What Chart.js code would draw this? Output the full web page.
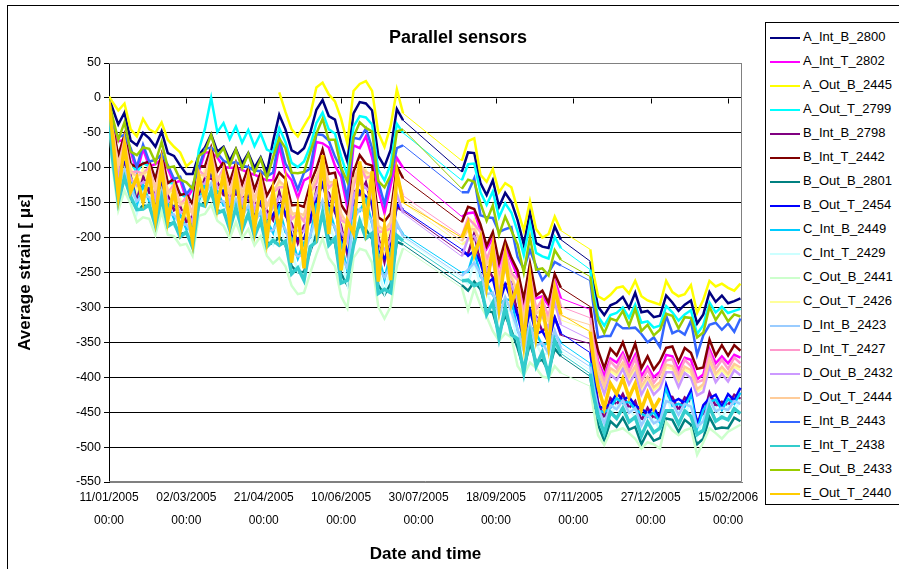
<!DOCTYPE html>
<html>
<head>
<meta charset="utf-8">
<title>Parallel sensors</title>
<script src="https://cdn.jsdelivr.net/npm/chart.js@4.4.1/dist/chart.umd.min.js"></script>
<style>
  html, body { margin: 0; padding: 0; background: #fff; overflow: hidden; }
  #wrap { position: relative; width: 899px; height: 569px; font-family: "Liberation Sans", Arial, sans-serif; color: #000; }
  #frame { position: absolute; left: 7px; top: 5px; width: 1000px; height: 1000px; border: 1px solid #000; box-sizing: border-box; }
  #chartBox { position: absolute; left: 0; top: 0; width: 899px; height: 569px; }
  #title { position: absolute; left: 308px; width: 300px; top: 26px; text-align: center; font-weight: bold; font-size: 18px; line-height: 22px; }
  #legend { position: absolute; left: 765px; top: 22px; width: 150px; height: 483px; border: 1px solid #000; box-sizing: border-box; background: #fff; }
  .item { position: absolute; left: 4px; height: 16px; font-size: 13px; line-height: 16px; white-space: nowrap; }
  .swatch { display: inline-block; width: 30px; height: 2px; vertical-align: middle; margin-right: 3px; }
</style>
</head>
<body>
<div id="wrap">
  <div id="frame"></div>
  <div id="chartBox"><canvas id="myChart"></canvas></div>
  <div id="title">Parallel sensors</div>
  <div id="legend"></div>
</div>
<script>
// days since 11/01/2005 00:00 (three recording periods)
const days = [0, 2, 6, 10, 14, 18, 22, 26, 30, 34, 38, 42, 46, 50, 54, 58, 62, 66, 70, 74, 78, 82, 86, 90, 94, 98,
  102, 106, 110, 114, 118, 122, 126, 130, 134, 138, 142, 146, 150, 154, 158, 162, 166, 170, 174, 178, 182, 186, 190,
  228, 232, 236, 240, 244, 248, 252, 256, 260, 264, 268, 272, 276, 280, 284, 288, 292,
  311, 313, 316, 320, 324, 328, 332, 336, 340, 344, 348, 352, 356, 360, 364, 368, 372, 376, 380, 384, 388, 392, 396, 400, 404, 408];

const aIntB2800 = [0, -13, -38, -21, -61, -68, -50, -58, -70, -48, -79, -83, -97, -109, -109, -82, -71, -52, -77, -70, -90, -73, -94, -79, -100, -85, -107, -62, -24, -45, -75, -80, -72, -50, -17, -3, -26, -31, -64, -91, -22, -6, -8, -18, -83, -98, -74, -16, -32,
  -106, -78, -79, -122, -139, -118, -156, -136, -149, -175, -210, -164, -208, -213, -215, -184, -203,
  -234, -265, -299, -311, -297, -293, -285, -301, -279, -307, -305, -314, -312, -283, -293, -305, -296, -290, -323, -310, -278, -292, -283, -294, -291, -287];
const aIntT2802 = [-8, -44, -62, -60, -76, -107, -73, -98, -95, -88, -101, -123, -118, -145, -131, -106, -78, -78, -85, -99, -100, -100, -103, -107, -110, -114, -118, -118, -69, -107, -118, -143, -118, -113, -63, -65, -71, -97, -113, -157, -68, -72, -55, -85, -132, -165, -125, -86, -100,
  -170, -165, -164, -189, -216, -201, -240, -213, -234, -255, -292, -246, -287, -284, -297, -261, -287,
  -303, -339, -377, -398, -373, -379, -365, -385, -368, -398, -385, -400, -392, -368, -370, -389, -372, -375, -403, -396, -360, -380, -370, -380, -368, -372];
const aOutB2445 = [2, -5, -18, -8, -45, -55, -30, -45, -50, -35, -60, -70, -78, -98, -90, null, null, null, null, null, null, null, null, null, null, null, null, null, 8, -20, -45, -55, -40, -25, 15, 22, 5, -5, -30, -65, 10, 20, 24, 10, -50, -70, -40, 12, -22,
  -90, -62, -58, -110, -120, -102, -135, -122, -128, -160, -190, -148, -188, -200, -195, -170, -190,
  -217, -251, -284, -289, -282, -272, -270, -280, -262, -284, -290, -293, -296, -262, -278, -284, -281, -268, -308, -289, -262, -270, -266, -272, -276, -266];
const aOutT2799 = [-5, -42, -82, -59, -93, -106, -93, -98, -115, -88, -121, -123, -137, -143, -150, -75, -44, 0, -49, -36, -59, -41, -64, -46, -69, -51, -74, -78, -43, -63, -93, -99, -91, -69, -36, -21, -45, -51, -84, -111, -41, -26, -28, -38, -103, -118, -95, -37, -50,
  -118, -95, -94, -135, -153, -134, -171, -151, -164, -191, -225, -180, -222, -227, -230, -199, -215,
  -246, -278, -313, -326, -311, -308, -300, -315, -296, -322, -320, -329, -326, -298, -307, -319, -310, -304, -338, -325, -293, -307, -299, -308, -305, -302];
const bIntB2798 = [-9, -72, -100, -96, -106, -142, -111, -136, -135, -126, -139, -161, -154, -178, -169, -139, -113, -116, -120, -139, -140, -138, -141, -147, -150, -154, -161, -175, -134, -169, -180, -208, -183, -178, -128, -128, -136, -164, -183, -224, -133, -139, -121, -155, -199, -235, -195, -156, -162,
  -222, -223, -194, -236, -242, -257, -270, -267, -264, -310, -322, -303, -313, -334, -326, -314, -340,
  -352, -392, -435, -459, -430, -439, -424, -444, -434, -462, -444, -459, -452, -427, -428, -447, -429, -436, -462, -456, -422, -441, -435, -440, -425, -431];
const bIntT2442 = [-6, -35, -83, -53, -95, -99, -94, -91, -116, -81, -122, -116, -139, -137, -152, -98, -98, -71, -105, -92, -121, -93, -124, -100, -131, -107, -140, -124, -107, -116, -154, -153, -156, -123, -101, -74, -109, -107, -153, -167, -106, -82, -94, -97, -171, -177, -165, -98, -115,
  -178, -156, -159, -181, -212, -192, -235, -205, -229, -247, -288, -237, -283, -276, -293, -252, -272,
  -299, -332, -362, -387, -359, -369, -350, -375, -352, -387, -370, -389, -377, -358, -356, -378, -358, -365, -388, -386, -346, -369, -354, -369, -354, -362];
const bOutB2801 = [-15, -81, -144, -115, -139, -161, -154, -155, -178, -145, -180, -180, -195, -193, -210, -153, -151, -135, -161, -163, -183, -159, -184, -168, -193, -178, -207, -209, -199, -211, -241, -250, -249, -220, -194, -170, -200, -208, -252, -268, -199, -183, -188, -202, -268, -282, -266, -206, -210,
  -268, -276, -263, -274, -305, -307, -338, -311, -333, -358, -388, -352, -378, -375, -392, -359, -370,
  -399, -432, -468, -491, -463, -471, -458, -475, -471, -496, -478, -491, -487, -459, -461, -478, -461, -468, -496, -488, -457, -474, -472, -473, -458, -463];
const bOutT2454 = [-12, -61, -116, -88, -119, -134, -127, -127, -150, -117, -154, -152, -170, -168, -184, -129, -127, -107, -136, -132, -155, -130, -157, -138, -165, -147, -177, -167, -153, -164, -197, -202, -202, -172, -147, -123, -154, -158, -202, -218, -152, -133, -141, -150, -219, -230, -215, -152, -160,
  -217, -226, -219, -236, -266, -259, -295, -267, -289, -312, -346, -304, -338, -334, -350, -315, -337,
  -365, -397, -443, -443, -439, -423, -432, -428, -441, -445, -452, -443, -460, -411, -436, -431, -437, -419, -470, -440, -430, -425, -442, -424, -433, -415];
const cIntB2449 = [-10, -80, -114, -109, -114, -155, -125, -148, -148, -138, -151, -173, -167, -188, -181, -149, -124, -128, -133, -154, -153, -152, -155, -160, -163, -169, -176, -193, -158, -192, -201, -230, -207, -200, -152, -151, -158, -187, -208, -247, -157, -162, -146, -180, -224, -260, -221, -182, -195,
  -250, -249, -219, -256, -265, -282, -295, -289, -289, -334, -346, -327, -337, -355, -350, -337, -351,
  -380, -408, -448, -450, -444, -430, -437, -435, -446, -452, -457, -450, -465, -418, -441, -438, -442, -426, -475, -447, -435, -432, -447, -431, -438, -422];
const cIntT2429 = [-10, -86, -126, -119, -124, -165, -137, -158, -161, -148, -163, -183, -179, -197, -193, -157, -135, -138, -145, -166, -166, -162, -167, -171, -176, -181, -189, -209, -178, -210, -220, -248, -227, -218, -172, -169, -178, -206, -229, -266, -177, -181, -167, -199, -246, -279, -243, -202, -200,
  -258, -266, -235, -270, -279, -298, -310, -304, -305, -350, -361, -343, -352, -369, -365, -352, -362,
  -390, -418, -458, -460, -454, -440, -447, -445, -458, -463, -467, -460, -475, -428, -451, -448, -452, -436, -485, -457, -446, -443, -459, -441, -448, -432];
const cOutB2441 = [-15, -94, -161, -133, -152, -178, -171, -173, -196, -163, -196, -198, -211, -209, -226, -169, -166, -153, -176, -183, -201, -178, -201, -188, -211, -198, -226, -237, -229, -241, -269, -281, -279, -251, -224, -201, -229, -241, -284, -301, -229, -216, -219, -236, -299, -316, -299, -241, -215,
  -272, -304, -273, -297, -313, -334, -348, -337, -343, -384, -397, -379, -387, -399, -401, -384, -394,
  -413, -445, -483, -497, -478, -476, -473, -480, -488, -502, -493, -496, -502, -464, -476, -483, -476, -473, -511, -493, -473, -480, -488, -478, -473, -468];
const cOutT2426 = [-6, -64, -90, -87, -97, -133, -101, -126, -124, -116, -129, -151, -145, -169, -159, -130, -103, -106, -111, -129, -129, -128, -131, -136, -139, -144, -150, -159, -117, -153, -163, -191, -166, -161, -111, -112, -119, -146, -165, -206, -116, -121, -104, -137, -182, -217, -177, -138, -150,
  -210, -204, -176, -221, -226, -238, -252, -249, -246, -292, -304, -284, -297, -318, -308, -296, -318,
  -333, -364, -395, -417, -391, -397, -383, -403, -388, -417, -403, -418, -411, -386, -388, -407, -389, -394, -421, -414, -379, -399, -389, -399, -385, -390];
const dIntB2423 = [-12, -72, -129, -102, -129, -148, -140, -142, -164, -132, -167, -167, -182, -181, -197, -142, -139, -122, -148, -148, -169, -145, -170, -154, -179, -163, -192, -189, -176, -188, -219, -227, -225, -197, -170, -147, -177, -184, -227, -244, -175, -159, -164, -177, -243, -257, -240, -179, -198,
  -255, -246, -236, -252, -281, -279, -312, -285, -306, -331, -362, -324, -354, -351, -366, -333, -358,
  -385, -414, -444, -466, -440, -446, -433, -451, -444, -469, -453, -466, -461, -434, -437, -454, -438, -442, -471, -463, -432, -449, -444, -447, -434, -438];
const dIntT2427 = [-10, -39, -98, -59, -107, -105, -109, -98, -132, -88, -137, -123, -153, -142, -167, -103, -112, -78, -119, -100, -137, -100, -139, -108, -147, -115, -156, -135, -128, -128, -174, -165, -177, -135, -122, -87, -129, -120, -175, -180, -127, -95, -115, -111, -192, -191, -187, -112, -140,
  -198, -172, -181, -192, -232, -207, -257, -218, -251, -261, -309, -252, -303, -288, -314, -266, -299,
  -315, -349, -381, -406, -377, -387, -369, -393, -373, -406, -389, -408, -396, -376, -374, -397, -375, -384, -407, -404, -365, -388, -375, -388, -372, -380];
const dOutB2432 = [-10, -56, -110, -80, -116, -126, -121, -120, -145, -110, -149, -145, -164, -162, -179, -123, -123, -100, -130, -123, -150, -122, -151, -131, -160, -138, -171, -157, -142, -151, -188, -190, -191, -160, -136, -110, -144, -146, -191, -206, -141, -121, -129, -137, -207, -217, -203, -138, -165,
  -227, -201, -198, -215, -247, -235, -274, -245, -268, -288, -326, -281, -318, -313, -330, -292, -325,
  -346, -373, -400, -424, -396, -404, -388, -410, -394, -425, -408, -425, -416, -393, -393, -414, -394, -401, -426, -421, -385, -407, -395, -406, -390, -397];
const dOutT2444 = [-8, -45, -97, -66, -106, -112, -108, -105, -131, -95, -136, -130, -152, -149, -166, -110, -111, -85, -118, -107, -136, -107, -138, -115, -146, -122, -156, -135, -119, -127, -166, -165, -168, -135, -113, -86, -121, -120, -166, -180, -118, -95, -106, -110, -183, -190, -178, -111, -145,
  -205, -188, -188, -205, -238, -222, -264, -233, -258, -276, -316, -268, -309, -302, -320, -280, -312,
  -325, -358, -391, -413, -387, -393, -379, -399, -384, -413, -399, -414, -407, -382, -384, -403, -385, -390, -417, -410, -375, -395, -385, -395, -381, -386];
const eIntB2443 = [-5, -37, -56, -53, -72, -99, -67, -91, -89, -81, -96, -116, -113, -138, -126, -100, -73, -71, -79, -90, -94, -92, -97, -99, -104, -105, -112, -107, -58, -94, -108, -131, -107, -101, -52, -53, -61, -84, -102, -144, -57, -59, -44, -72, -120, -152, -113, -72, -68,
  -135, -135, -115, -168, -171, -172, -192, -188, -185, -228, -245, -218, -241, -261, -250, -235, -240,
  -262, -297, -343, -341, -341, -323, -330, -330, -329, -338, -350, -343, -357, -312, -337, -333, -339, -319, -368, -340, -325, -322, -332, -323, -335, -316];
const eIntT2438 = [-12, -81, -149, -114, -142, -160, -159, -153, -183, -143, -184, -178, -199, -192, -214, -152, -155, -133, -165, -161, -188, -157, -189, -166, -198, -176, -213, -204, -211, -205, -252, -243, -261, -213, -206, -164, -211, -201, -265, -261, -211, -176, -201, -194, -280, -274, -279, -197, -205,
  -262, -261, -269, -265, -310, -293, -344, -299, -339, -345, -393, -338, -384, -364, -397, -347, -366,
  -395, -425, -455, -480, -450, -459, -444, -464, -457, -484, -464, -479, -473, -448, -448, -467, -448, -456, -482, -476, -443, -463, -457, -461, -445, -452];
const eOutB2433 = [-3, -25, -60, -35, -77, -82, -71, -73, -92, -63, -100, -98, -117, -121, -130, -83, -77, -53, -84, -72, -97, -74, -101, -80, -107, -87, -115, -85, -58, -72, -107, -108, -106, -78, -51, -30, -60, -60, -100, -120, -56, -35, -43, -48, -119, -128, -111, -48, -45,
  -130, -117, -120, -151, -176, -154, -196, -170, -190, -210, -250, -200, -246, -244, -254, -218, -232,
  -256, -287, -318, -337, -316, -319, -305, -326, -302, -334, -325, -340, -332, -309, -312, -330, -314, -315, -343, -336, -299, -318, -305, -320, -310, -313];
const eOutT2440 = [-5, -48, -139, -67, -134, -114, -149, -106, -173, -96, -175, -131, -190, -151, -205, -112, -146, -86, -156, -108, -178, -108, -179, -116, -188, -123, -202, -133, -194, -124, -236, -161, -244, -131, -189, -82, -195, -116, -247, -176, -194, -91, -183, -105, -263, -185, -261, -106, -150,
  -200, -179, -225, -200, -270, -214, -300, -226, -295, -268, -351, -259, -343, -296, -355, -273, -310,
  -335, -375, -413, -444, -409, -424, -402, -429, -409, -446, -422, -445, -430, null, null, null, null, null, null, null, null, null, null, null, null, null];

const seriesNames = ['A_Int_B_2800', 'A_Int_T_2802', 'A_Out_B_2445', 'A_Out_T_2799', 'B_Int_B_2798', 'B_Int_T_2442',
  'B_Out_B_2801', 'B_Out_T_2454', 'C_Int_B_2449', 'C_Int_T_2429', 'C_Out_B_2441', 'C_Out_T_2426', 'D_Int_B_2423',
  'D_Int_T_2427', 'D_Out_B_2432', 'D_Out_T_2444', 'E_Int_B_2443', 'E_Int_T_2438', 'E_Out_B_2433', 'E_Out_T_2440'];
const seriesValues = [aIntB2800, aIntT2802, aOutB2445, aOutT2799, bIntB2798, bIntT2442, bOutB2801, bOutT2454,
  cIntB2449, cIntT2429, cOutB2441, cOutT2426, dIntB2423, dIntT2427, dOutB2432, dOutT2444, eIntB2443, eIntT2438,
  eOutB2433, eOutT2440];
const seriesColors = ['#000080', '#ff00ff', '#ffff00', '#00ffff', '#800080', '#800000', '#008080', '#0000ff',
  '#00ccff', '#ccffff', '#ccffcc', '#ffff99', '#99ccff', '#ff99cc', '#cc99ff', '#ffcc99', '#3366ff', '#33cccc',
  '#99cc00', '#ffcc00'];

// legend box (Excel style, to the right of the plot)
const legendBox = document.getElementById('legend');
seriesNames.forEach((name, i) => {
    const row = document.createElement('div');
    row.className = 'item';
    row.style.top = (6 + i * 24) + 'px';
    row.innerHTML = '<span class="swatch" style="background:' + seriesColors[i] + '"></span>' + name;
    legendBox.appendChild(row);
});

const pad = n => String(n).padStart(2, '0');

// grey plot frame + small ticks on the zero line
const plotFrame = {
    id: 'plotFrame',
    beforeDatasetsDraw(chart) {
        const { ctx, chartArea: a, scales: { x, y } } = chart;
        ctx.save();
        ctx.strokeStyle = '#808080';
        ctx.lineWidth = 1;
        ctx.beginPath();
        ctx.moveTo(a.left, a.top + 0.5);
        ctx.lineTo(a.right - 0.5, a.top + 0.5);
        ctx.lineTo(a.right - 0.5, a.bottom - 0.5);
        ctx.lineTo(a.left, a.bottom - 0.5);
        ctx.stroke();
        const y0 = Math.round(y.getPixelForValue(0)) + 0.5;
        ctx.strokeStyle = '#000';
        ctx.beginPath();
        x.ticks.forEach(t => {
            const px = Math.round(x.getPixelForValue(t.value)) + 0.5;
            ctx.moveTo(px, y0);
            ctx.lineTo(px, y0 + 5);
        });
        ctx.stroke();
        ctx.restore();
    }
};

Chart.defaults.font.family = '"Liberation Sans", Arial, sans-serif';
Chart.defaults.color = '#000';

const ctx = document.getElementById('myChart').getContext('2d');
const myChart = new Chart(ctx, {
    type: 'line',
    data: {
        datasets: seriesValues.map((vals, i) => ({
            label: seriesNames[i],
            data: vals.map((v, k) => ({ x: days[k], y: v })),
            borderColor: seriesColors[i],
            backgroundColor: seriesColors[i],
            borderWidth: (i === 19 || i === 17) ? 3.5 : 2.5,
            pointRadius: 0,
            tension: 0,
            spanGaps: false,
            // thin straight line across the periods with no recording
            segment: {
                borderWidth: c => (c.p1.parsed.x - c.p0.parsed.x > 10 ? 1 : undefined)
            },
            order: seriesValues.length - 1 - i   // last series on top, like Excel
        }))
    },
    options: {
        responsive: true,
        maintainAspectRatio: false,
        animation: false,
        layout: {
            padding: { top: 63, right: 157, bottom: 0, left: 0 }
        },
        plugins: {
            legend: { display: false },
            tooltip: { enabled: false }
        },
        scales: {
            x: {
                type: 'linear',
                min: 0,
                max: 409,
                afterFit: s => { s.height = 87; },
                grid: { display: false, drawTicks: false },
                border: { display: true, color: '#808080' },
                ticks: {
                    stepSize: 50,
                    includeBounds: false,
                    autoSkip: false,
                    maxRotation: 0,
                    padding: 4,
                    font: { size: 12, lineHeight: 1.9 },
                    callback: v => {
                        const d = new Date(Date.UTC(2005, 0, 11 + v));
                        return [pad(d.getUTCDate()) + '/' + pad(d.getUTCMonth() + 1) + '/' + d.getUTCFullYear(), '00:00'];
                    }
                },
                title: {
                    display: true,
                    text: 'Date and time',
                    font: { size: 17, weight: 'bold' },
                    padding: { top: 0, bottom: 4 }
                }
            },
            y: {
                min: -550,
                max: 50,
                afterFit: s => { s.width = 109; },
                grid: {
                    color: c => (c.tick && (c.tick.value === 50 || c.tick.value === -550)) ? '#808080' : '#000',
                    tickColor: '#000',
                    tickLength: 5,
                    lineWidth: 1
                },
                border: { display: true, color: '#000', width: 1 },
                ticks: {
                    stepSize: 50,
                    padding: 3,
                    font: { size: 12.5 }
                },
                title: {
                    display: true,
                    text: 'Average strain [ με]',
                    font: { size: 17, weight: 'bold' },
                    padding: { top: 15, bottom: 0 }
                }
            }
        }
    },
    plugins: [plotFrame]
});
</script>
</body>
</html>
